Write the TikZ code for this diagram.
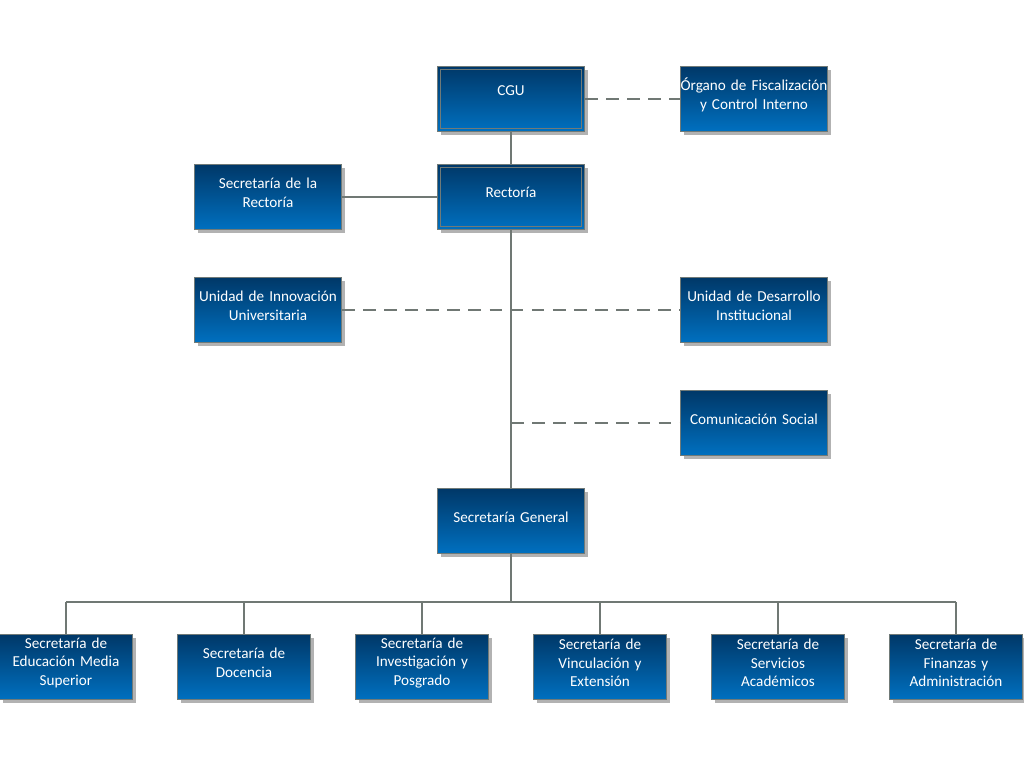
\documentclass[tikz,border=0pt]{standalone}
\usepackage{fontspec}
\setmainfont{Carlito}
\usepackage{tikz}
\usetikzlibrary{positioning,shadows}
\definecolor{boxtop}{RGB}{0,56,104}
\definecolor{boxbottom}{RGB}{0,112,192}
\definecolor{edgegray}{RGB}{112,122,120}
\definecolor{linegray}{RGB}{112,120,116}
\newcommand{\boxend}[1][6pt]{\par\kern#1}

\begin{document}
\begin{tikzpicture}[node distance=2cm, on grid, auto]
    % Define styles
    \tikzstyle{unit} = [rectangle, draw=edgegray, line width=0.8pt, top color=boxtop, bottom color=boxbottom, text=white, text width=3.6cm, align=center, minimum width=3.65cm, minimum height=1.625cm, inner sep=1pt, font=\fontsize{10.8}{13.2}\selectfont, execute at end node=\boxend, drop shadow={shadow xshift=2.5pt, shadow yshift=-2.5pt, fill=black!30, opacity=1}]
    \tikzstyle{subunit} = [unit, text width=3.25cm, minimum width=3.275cm]
    \tikzstyle{link} = [draw=linegray, line width=1.4pt]
    \tikzstyle{aux} = [link, dash pattern=on 9pt off 6pt]
    \tikzstyle{frame} = [draw=edgegray, line width=0.6pt]

    \useasboundingbox (0,0) rectangle (25.6,-19.2);

    % Top level
    \node [unit, execute at end node={\boxend[5.5pt]}] (cgu) at (12.775,-2.475) {CGU};
    \node [unit, right=6.075cm of cgu] (organo) {\makebox[\linewidth]{Órgano de Fiscalización}\\y Control Interno};
    \node [unit, below=2.45cm of cgu] (rectoria) {Rectoría};
    \node [unit, left=6.075cm of rectoria] (secrect) {Secretaría de la\\Rectoría};
    \draw [frame] ([xshift=2.5pt,yshift=-2.5pt]cgu.north west) rectangle ([xshift=-2.5pt,yshift=2.5pt]cgu.south east);
    \draw [frame] ([xshift=2.5pt,yshift=-2.5pt]rectoria.north west) rectangle ([xshift=-2.5pt,yshift=2.5pt]rectoria.south east);

    % Staff units
    \node [unit, below=2.825cm of secrect] (innovacion) {Unidad de Innovación\\Universitaria};
    \node [unit, below=2.825cm of rectoria, xshift=6.075cm] (desarrollo) {Unidad de Desarrollo\\Institucional};
    \node [unit, below=2.825cm of desarrollo] (comunicacion) {Comunicación Social};
    \node [unit, below=8.1cm of rectoria] (secgen) {Secretaría General};

    % Secretarias
    \node [subunit, below=3.65cm of secgen, xshift=-2.225cm] (inv) {Secretaría de\\Investigación y\\Posgrado};
    \node [subunit, left=4.45cm of inv] (doc) {Secretaría de\\Docencia};
    \node [subunit, left=4.45cm of doc] (edu) {Secretaría de\\Educación Media\\Superior};
    \node [subunit, right=4.45cm of inv] (vin) {Secretaría de\\Vinculación y\\Extensión};
    \node [subunit, right=4.45cm of vin] (ser) {Secretaría de\\Servicios\\Académicos};
    \node [subunit, right=4.45cm of ser] (fin) {Secretaría de\\Finanzas y\\Administración};

    % Lines
    \draw [link] (cgu) -- (rectoria);
    \draw [link] (secrect) -- (rectoria);
    \draw [link] (rectoria) -- (secgen);
    \draw [aux] (cgu) -- (organo);
    \draw [aux] (innovacion) -- (desarrollo);
    \coordinate (tap) at (rectoria.south |- comunicacion.west);
    \draw [aux] (tap) -- (comunicacion);

    \coordinate [below=1.2cm of secgen.south] (bus);
    \draw [link] (secgen) -- (bus);
    \draw [link] (bus -| edu.north) -- (bus -| fin.north);
    \foreach \n in {edu,doc,inv,vin,ser,fin}
        \draw [link] (bus -| \n.north) -- (\n);
\end{tikzpicture}
\end{document}
